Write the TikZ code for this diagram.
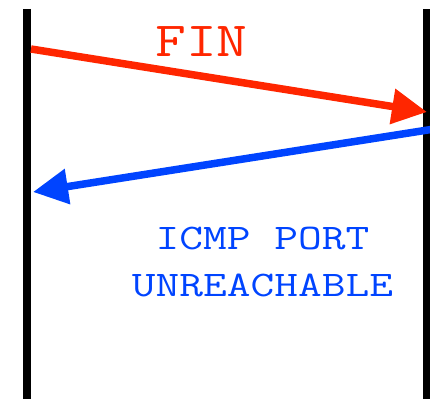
\documentclass[tikz,border=0pt]{standalone}
\usepackage{fontspec}
\usetikzlibrary{arrows.meta}
\definecolor{finred}{RGB}{255,38,0}
\definecolor{icmpblue}{RGB}{0,68,255}
\begin{document}
\begin{tikzpicture}[x=1pt,y=-1pt,
  timeline/.style={line width=8pt,black},
  msg/.style={line width=7.5pt,-{Triangle[length=35pt,width=34pt]}},
  lbl/.style={inner sep=0pt,anchor=base,font=\ttfamily}]
  \useasboundingbox (0,0) rectangle (430,398);
  % host time lines
  \coordinate (lt) at (27,9);
  \coordinate (lb) at (27,400);
  \coordinate (rt) at (427,9);
  \coordinate (rb) at (427,400);
  \draw[timeline] (lt) -- (lb);
  \draw[timeline] (rt) -- (rb);
  % message end points
  \coordinate (finA) at (31,49);
  \coordinate (finB) at (427,112);
  \coordinate (icA) at (431,129.5);
  \coordinate (icB) at (33,192);
  \draw[msg,finred] (finA) -- (finB);
  \draw[msg,icmpblue] (icA) -- (icB);
  % labels
  \node[lbl,text=finred,font=\ttfamily\fontsize{49}{49}\selectfont] (fin) at (201.5,57) {\scalebox{1.22}[1]{FIN}};
  \node[lbl,text=icmpblue,font=\ttfamily\fontsize{36}{36}\selectfont] (icmp1) at (262.5,249) {\scalebox{1.28}[1]{ICMP PORT}};
  \node[lbl,text=icmpblue,font=\ttfamily\fontsize{36}{36}\selectfont] (icmp2) at (262.5,296.5) {\scalebox{1.28}[1]{UNREACHABLE}};
\end{tikzpicture}
\end{document}
